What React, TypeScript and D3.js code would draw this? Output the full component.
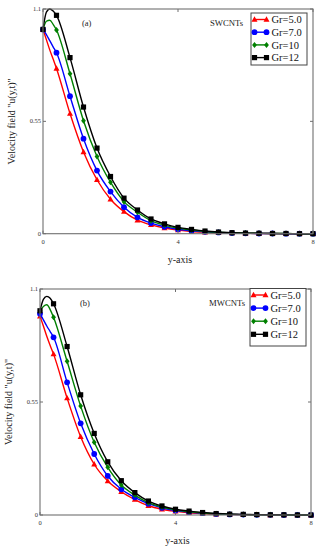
import React from 'react'
import * as d3 from 'd3'

// y positions (first three extra points trace the bump near the wall, markers every 0.4)
const yAxisVals = [0, 0.1, 0.2, 0.3, 0.4, 0.8, 1.2, 1.6, 2.0, 2.4, 2.8, 3.2, 3.6, 4.0, 4.4, 4.8, 5.2, 5.6, 6.0, 6.4, 6.8, 7.2, 7.6, 8.0]

const seriesNames = ['Gr=5.0', 'Gr=7.0', 'Gr=10', 'Gr=12']
const seriesColors = ['#ff0000', '#0000ff', '#008000', '#000000']
const seriesMarkers = ['triangle', 'circle', 'diamond', 'square']

// panel (a) SWCNTs
const swGr5 = [1.0, 0.95, 0.9, 0.855, 0.809, 0.588, 0.40, 0.264, 0.169, 0.108, 0.066, 0.043, 0.028, 0.018, 0.011, 0.007, 0.004, 0.003, 0.002, 0.001, 0.001, 0, 0, 0]
const swGr7 = [1.0, 0.975, 0.945, 0.915, 0.886, 0.673, 0.465, 0.309, 0.206, 0.13, 0.08, 0.052, 0.034, 0.022, 0.014, 0.009, 0.006, 0.003, 0.002, 0.001, 0.001, 0, 0, 0]
const swGr10 = [1.0, 1.04, 1.045, 1.025, 0.997, 0.783, 0.553, 0.378, 0.252, 0.157, 0.105, 0.064, 0.042, 0.027, 0.018, 0.011, 0.007, 0.004, 0.003, 0.002, 0.001, 0.001, 0, 0]
const swGr12 = [1.0, 1.085, 1.10, 1.09, 1.069, 0.862, 0.62, 0.419, 0.28, 0.174, 0.116, 0.072, 0.048, 0.031, 0.021, 0.013, 0.008, 0.005, 0.003, 0.002, 0.001, 0.001, 0, 0]

// panel (b) MWCNTs
const mwGr5 = [0.967, 0.92, 0.87, 0.825, 0.783, 0.569, 0.381, 0.247, 0.165, 0.113, 0.075, 0.045, 0.028, 0.018, 0.011, 0.007, 0.004, 0.003, 0.002, 0.001, 0, 0, 0, 0]
const mwGr7 = [0.98, 0.95, 0.92, 0.893, 0.865, 0.646, 0.446, 0.297, 0.19, 0.125, 0.086, 0.055, 0.035, 0.022, 0.014, 0.009, 0.005, 0.003, 0.002, 0.001, 0.001, 0, 0, 0]
const mwGr10 = [0.994, 1.015, 1.023, 1.0, 0.962, 0.748, 0.53, 0.354, 0.232, 0.146, 0.097, 0.06, 0.039, 0.025, 0.016, 0.01, 0.006, 0.004, 0.002, 0.001, 0.001, 0, 0, 0]
const mwGr12 = [0.994, 1.05, 1.064, 1.055, 1.028, 0.82, 0.585, 0.397, 0.259, 0.167, 0.109, 0.068, 0.044, 0.028, 0.019, 0.012, 0.007, 0.004, 0.003, 0.002, 0.001, 0.001, 0, 0]

const xTicks = [0, 4, 8]
const yTicks = [0, 0.55, 1.1]
const yTickLabels = ['0', '0.55', '1.1']

const font = '"Liberation Serif", "Times New Roman", serif'

const isMarked = (x: number) => Math.abs(x / 0.4 - Math.round(x / 0.4)) < 1e-6

function Marker ({ type, x, y, color }: { type: string, x: number, y: number, color: string }) {
  if (type === 'circle') return <circle cx={x} cy={y} r={2.9} fill={color} />
  if (type === 'square') return <rect x={x - 2.6} y={y - 2.6} width={5.2} height={5.2} fill={color} />
  if (type === 'triangle') {
    return <path d={`M${x},${y - 3.2}L${x + 3},${y + 2.2}L${x - 3},${y + 2.2}Z`} fill={color} />
  }
  return <path d={`M${x},${y - 3}L${x + 2.4},${y}L${x},${y + 3}L${x - 2.4},${y}Z`} fill={color} />
}

function Panel ({ series, left, right, top, bottom, tag, tagX, label, legend }: any) {
  const x = d3.scaleLinear().domain([0, 8]).range([left, right])
  const y = d3.scaleLinear().domain([0, 1.1]).range([bottom, top])
  const line = d3.line<number>()
    .x((d, i) => x(yAxisVals[i]))
    .y(d => y(d))
    .curve(d3.curveMonotoneX)
  const midY = (top + bottom) / 2

  return (
    <g fontFamily={font}>
      {series.map((vals: number[], s: number) => (
        <g key={s}>
          <path d={line(vals) || ''} fill='none' stroke={seriesColors[s]} strokeWidth={1.4} />
          {vals.map((v, i) => isMarked(yAxisVals[i])
            ? <Marker key={i} type={seriesMarkers[s]} x={x(yAxisVals[i])} y={y(v)} color={seriesColors[s]} />
            : null)}
        </g>
      ))}
      <rect x={left} y={top} width={right - left} height={bottom - top} fill='none' stroke='#707070' strokeWidth={1.1} />
      {xTicks.map(t => (
        <g key={t}>
          <line x1={x(t)} x2={x(t)} y1={bottom} y2={bottom - 3} stroke='#707070' />
          <line x1={x(t)} x2={x(t)} y1={top} y2={top + 3} stroke='#707070' />
          <text x={x(t)} y={bottom + 10} fontSize={6.5} textAnchor='middle' fill='#333'>{t}</text>
        </g>
      ))}
      {yTicks.map((t, i) => (
        <g key={t}>
          <line x1={left} x2={left + 3} y1={y(t)} y2={y(t)} stroke='#707070' />
          <line x1={right} x2={right - 3} y1={y(t)} y2={y(t)} stroke='#707070' />
          <text x={left - 2} y={y(t) + 2} fontSize={6.5} textAnchor='end' fill='#333'>{yTickLabels[i]}</text>
        </g>
      ))}
      <text x={tagX} y={top + 17} fontSize={8.5} fill='#222'>{tag}</text>
      <text x={legend.x - 41} y={top + 16.5} fontSize={8.7} fill='#222'>{label}</text>
      <rect x={legend.x} y={legend.y} width={legend.w} height={legend.h} fill='#fff' stroke='#444' strokeWidth={1} />
      {seriesNames.map((n, s) => {
        const ly = legend.y + 6.5 + s * legend.step
        return (
          <g key={n}>
            <line x1={legend.x + 2.5} x2={legend.x + 16} y1={ly} y2={ly} stroke={seriesColors[s]} strokeWidth={1.4} />
            <Marker type={seriesMarkers[s]} x={legend.x + 3.5} y={ly} color={seriesColors[s]} />
            <Marker type={seriesMarkers[s]} x={legend.x + 15.5} y={ly} color={seriesColors[s]} />
            <text x={legend.x + 20.5} y={ly + 3.6} fontSize={10.5} fill='#111'>{n}</text>
          </g>
        )
      })}
      <text transform={`translate(${left - 28},${midY}) rotate(-90)`} fontSize={10} textAnchor='middle' fill='#222'>
        Velocity field "u(y,t)"
      </text>
      <text x={(left + right) / 2 + 2} y={bottom + 29} fontSize={10} textAnchor='middle' fill='#222'>y-axis</text>
    </g>
  )
}

export default function App () {
  return (
    <div style={{ position: 'absolute', left: 0, top: 0 }}>
      <svg width={321} height={550} style={{ display: 'block', background: '#fff' }}>
        <Panel
          series={[swGr5, swGr7, swGr10, swGr12]}
          left={43} right={313} top={9} bottom={233.7}
          tag='(a)' tagX={82} label='SWCNTs'
          legend={{ x: 251, y: 13, w: 56, h: 52, step: 12.7 }}
        />
        <Panel
          series={[mwGr5, mwGr7, mwGr10, mwGr12]}
          left={40} right={311} top={289} bottom={515}
          tag='(b)' tagX={80} label='MWCNTs'
          legend={{ x: 250, y: 288.5, w: 56, h: 57.5, step: 13.1 }}
        />
      </svg>
    </div>
  )
}
